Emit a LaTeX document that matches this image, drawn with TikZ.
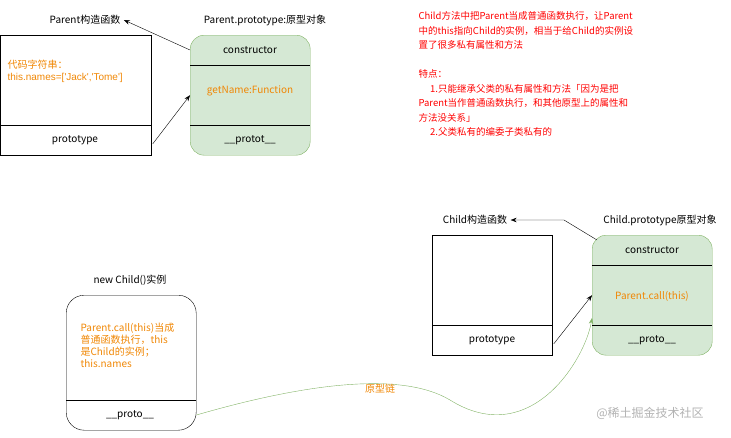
\documentclass[tikz,border=0pt]{standalone}
\usepackage{fontspec}
\setmainfont{Noto Sans CJK SC}
\newfontfamily\latinfont{Liberation Sans}
\usetikzlibrary{arrows.meta, positioning}
\definecolor{boxgreen}{HTML}{D5E8D4}
\definecolor{linegreen}{HTML}{82B366}
\definecolor{codeorange}{HTML}{F08705}
\newcommand{\sq}{\char"27\relax}
\tikzset{
  plainbox/.style={draw, thick, minimum width=120pt, inner sep=0pt},
  protobox/.style={draw=linegreen, fill=boxgreen, rounded corners=14pt, minimum width=120pt, minimum height=120pt, inner sep=0pt},
  instbox/.style={draw, rounded corners=18pt, minimum width=130pt, minimum height=135pt, inner sep=0pt},
  title/.style={font=\fontsize{10}{12}\selectfont},
  code/.style={font=\fontsize{10}{12}\selectfont, text=codeorange, align=left},
  link/.style={-{Stealth[length=6pt]}, thin}
}
\begin{document}
\begin{tikzpicture}[x=1pt,y=-1pt]
\useasboundingbox (0,0) rectangle (731,437);
%parent constructor
\node[plainbox, minimum width=151pt, minimum height=120pt, anchor=north west] (pbox) at (0,35) {};
\draw[thick] (0,125) -- (151,125);
\node[title] (ptitle) at (85,20) {Parent构造函数};
\node[code, anchor=north west] (pcode) at (4,56) {代码字符串：\\{\latinfont this.names=[\sq Jack\sq,\sq Tome\sq]}};
\node[title] (pprop) at (75,140) {prototype};
%parent prototype
\node[protobox, anchor=north west] (pproto) at (190,35) {};
\draw (190,65) -- (310,65);
\draw (190,125) -- (310,125);
\node[title] (ppt) at (265,20) {Parent.prototype:原型对象};
\node[title] (pcons) at (250,50) {constructor};
\node[code] (pget) at (250,91) {getName:Function};
\node[title] (pprot) at (250,140) {\_\_protot\_\_};
\draw[link] (pproto.north west) ++(0,15) coordinate (pc) -- (ptitle.east);
\draw[link] (pbox.south east) ++(1,-12) -- (pproto.west);
%red notes
\node[font=\fontsize{9.5}{14.5}\selectfont, text=red, align=left, anchor=north west] (notes) at (415,8)
  {Child方法中把Parent当成普通函数执行，让Parent\\中的this指向Child的实例，相当于给Child的实例设\\置了很多私有属性和方法\\[14.5pt]特点：\\\quad\ 1.只能继承父类的私有属性和方法「因为是把\\Parent当作普通函数执行，和其他原型上的属性和\\方法没关系」\\\quad\ 2.父类私有的编委子类私有的};
%child constructor
\node[plainbox, minimum height=120pt, anchor=north west] (cbox) at (432,235) {};
\draw[thick] (432,325) -- (552,325);
\node[title] (ctitle) at (475,220) {Child构造函数};
\node[title] (cprop) at (492,340) {prototype};
%child prototype
\node[protobox, anchor=north west] (cproto) at (592,235) {};
\draw (592,265) -- (712,265);
\draw (592,325) -- (712,325);
\node[title] (cpt) at (660,220) {Child.prototype原型对象};
\node[title] (ccons) at (652,250) {constructor};
\node[code] (ccall) at (652,296) {Parent.call(this)};
\node[title] (cprot) at (652,340) {\_\_proto\_\_};
\draw[link] (597,240) -- (564,220) -- (ctitle.east);
\draw[link] (cbox.south east) ++(1,-12) -- (cproto.west);
%instance
\node[instbox, anchor=north west] (inst) at (66,295) {};
\draw (66,400) -- (196,400);
\node[title] (ititle) at (130,280) {new Child()实例};
\node[code, anchor=north west] (icode) at (77,320) {Parent.call(this)当成\\普通函数执行，this\\是Child的实例；\\this.names};
\node[title] (iprot) at (130,415) {\_\_proto\_\_};
\draw[link, draw=linegreen] (inst.east |- iprot) .. controls (300,385) and (400,370) .. (450,400) .. controls (530,450) and (585,360) .. (cproto.south west |- 0,318);
\node[font=\fontsize{10}{12}\selectfont, text=codeorange] (chain) at (380,389) {原型链};
\node[font=\fontsize{12}{14}\selectfont, text=black!30] (mark) at (650,413) {@稀土掘金技术社区};
\end{tikzpicture}
\end{document}
